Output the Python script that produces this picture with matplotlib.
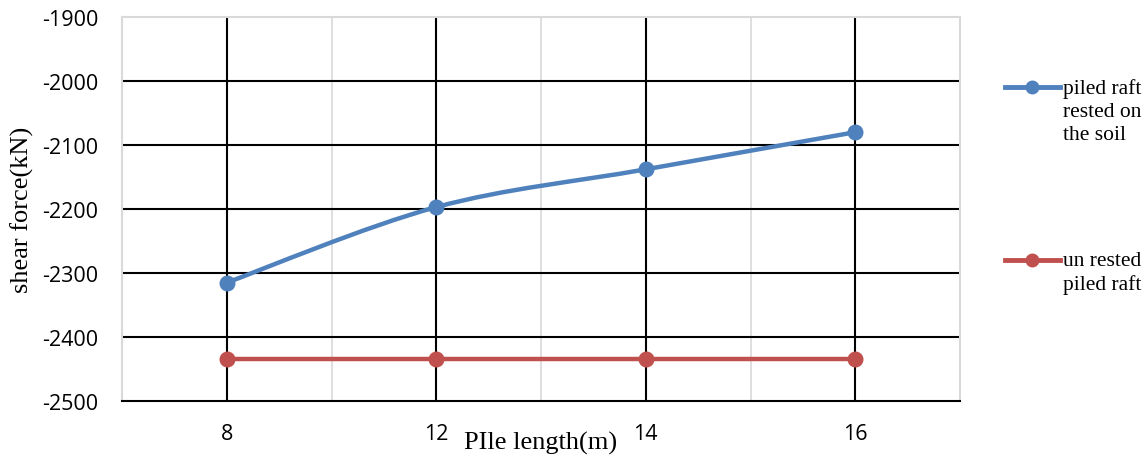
import matplotlib
matplotlib.use("Agg")
import matplotlib.pyplot as plt
from matplotlib.path import Path
from matplotlib.patches import PathPatch
from matplotlib.lines import Line2D
import numpy as np

# datos
longitudes = ["8", "12", "14", "16"]
rested = [-2315, -2197, -2138, -2080]
unrested = [-2434, -2434, -2434, -2434]
etiquetas = ["piled raft\nrested on\nthe soil", "un rested\npiled raft"]

azul = "#4f81bd"
rojo = "#c0504d"
W, H = 1147, 460

plt.rcParams["axes.unicode_minus"] = False

fig = plt.figure(figsize=(W / 100, H / 100), dpi=100)
ax = fig.add_axes([122 / W, 1 - 402 / H, (960 - 122) / W, (402 - 18) / H])

x = np.arange(len(longitudes))

# curva suavizada tipo Excel (bezier por tramos)
def suavizada(xs, ys):
    pts = np.column_stack([xs, ys]).astype(float)
    n = len(pts)
    verts = [pts[0]]
    codes = [Path.MOVETO]
    for i in range(n - 1):
        p0 = pts[i - 1] if i > 0 else pts[i]
        p1 = pts[i]
        p2 = pts[i + 1]
        p3 = pts[i + 2] if i + 2 < n else pts[i + 1]
        c1 = p1 + (p2 - p0) / 6
        c2 = p2 - (p3 - p1) / 6
        verts += [c1, c2, p2]
        codes += [Path.CURVE4] * 3
    return Path(verts, codes)

ax.add_patch(PathPatch(suavizada(x, rested), fill=False, edgecolor=azul, lw=3.2, zorder=3))
ax.plot(x, rested, "o", color=azul, ms=10.5, zorder=4)
ax.plot(x, unrested, "-o", color=rojo, lw=3.2, ms=10.5, zorder=4)

ax.set_xlim(-0.5, len(longitudes) - 0.5)
ax.set_ylim(-2500, -1900)
ax.set_xticks(x)
ax.set_xticklabels(longitudes)
ax.set_yticks(np.arange(-2500, -1899, 100))

# rejilla
for xv in x:
    ax.axvline(xv, color="black", lw=1.5, zorder=1)
for xv in x[:-1] + 0.5:
    ax.axvline(xv, color="#d9d9d9", lw=1.2, zorder=1)
for yv in np.arange(-2400, -1999, 100):
    ax.axhline(yv, color="black", lw=1.5, zorder=1)

for lado in ["top", "left", "right"]:
    ax.spines[lado].set_color("#d9d9d9")
    ax.spines[lado].set_linewidth(1.5)
ax.spines["bottom"].set_color("black")
ax.spines["bottom"].set_linewidth(1.5)
ax.tick_params(length=0)
ax.tick_params(axis="y", pad=17)
ax.tick_params(axis="x", pad=16)
for t in ax.get_xticklabels() + ax.get_yticklabels():
    t.set_fontfamily("Open Sans")
    t.set_fontsize(15.5)

ax.set_ylabel("shear force(kN)", family="Liberation Serif", fontsize=19, va="center")
ax.yaxis.set_label_coords(-0.119, 0.5)
ax.set_xlabel("PIle length(m)", family="Liberation Serif", fontsize=19, va="center")
ax.xaxis.set_label_coords(0.5, -0.107)

# leyenda dibujada a mano
for y_pix, color, txt in [(88, azul, etiquetas[0]), (261, rojo, etiquetas[1])]:
    yf = 1 - y_pix / H
    fig.add_artist(Line2D([1005 / W, 1032 / W, 1060 / W], [yf, yf, yf],
                          transform=fig.transFigure, color=color, lw=3.5,
                          marker="o", ms=9, markevery=[1]))
    fig.text(1063 / W, yf + 9 / H, txt, family="Liberation Serif", fontsize=15.5,
             va="top", ha="left", linespacing=1.3,
             transform=fig.transFigure)

fig.savefig("out.png", dpi=100)
